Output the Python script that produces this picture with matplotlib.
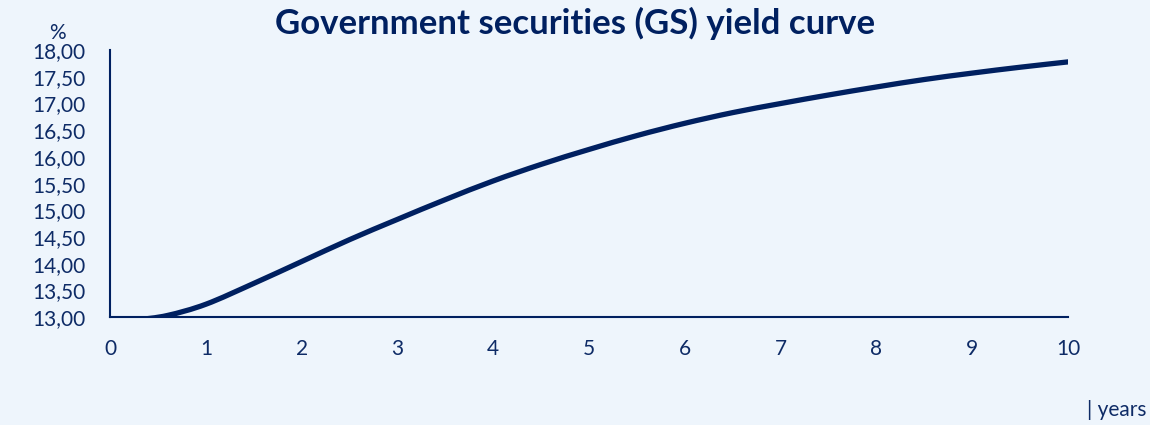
import matplotlib
matplotlib.use("Agg")
import matplotlib.pyplot as plt
import numpy as np
from matplotlib.path import Path
from matplotlib.patches import PathPatch
from matplotlib.ticker import FuncFormatter

# Yield curve: term to maturity (years) vs. yield (%)
maturity = [0.3, 0.6, 1.0, 1.5, 2.0, 2.5, 3.0, 3.5, 4.0, 4.5, 5.0,
            5.5, 6.0, 6.5, 7.0, 7.5, 8.0, 8.5, 9.0, 9.5, 10.0]
yield_pct = [12.95, 13.03, 13.24, 13.63, 14.04, 14.45, 14.83, 15.20, 15.55, 15.86, 16.14,
             16.40, 16.63, 16.83, 17.00, 17.16, 17.31, 17.45, 17.57, 17.68, 17.78]

x_ticks = list(range(0, 11))
y_ticks = [13.0, 13.5, 14.0, 14.5, 15.0, 15.5, 16.0, 16.5, 17.0, 17.5, 18.0]

navy = "#002060"
text_col = "#0E2B66"
bg = "#EEF5FC"

plt.rcParams["font.family"] = ["Lato", "DejaVu Sans"]


def smooth_path(xs, ys):
    """Cubic Bezier path through every data point (Catmull-Rom tangents)."""
    pts = np.column_stack([xs, ys]).astype(float)
    verts = [pts[0]]
    codes = [Path.MOVETO]
    n = len(pts)
    for i in range(n - 1):
        p0 = pts[i - 1] if i > 0 else pts[i]
        p1, p2 = pts[i], pts[i + 1]
        p3 = pts[i + 2] if i + 2 < n else pts[i + 1]
        c1 = p1 + (p2 - p0) / 6.0
        c2 = p2 - (p3 - p1) / 6.0
        verts += [c1, c2, p2]
        codes += [Path.CURVE4] * 3
    return Path(verts, codes)


fig = plt.figure(figsize=(11.5, 4.25), dpi=100, facecolor=bg)
ax = fig.add_axes([0.0957, 0.254, 0.833, 0.628], facecolor=bg)

curve = PathPatch(smooth_path(maturity, yield_pct), facecolor="none", edgecolor=navy,
                  linewidth=3.8, capstyle="round", joinstyle="round",
                  transform=ax.transData, zorder=3)
ax.add_patch(curve)

ax.set_xlim(0, 10)
ax.set_ylim(13.0, 18.0)
ax.set_xticks(x_ticks)
ax.set_yticks(y_ticks)
ax.yaxis.set_major_formatter(FuncFormatter(lambda v, p: f"{v:.2f}".replace(".", ",")))

for side in ("top", "right"):
    ax.spines[side].set_visible(False)
for side in ("left", "bottom"):
    ax.spines[side].set_color(navy)
    ax.spines[side].set_linewidth(1.5)

ax.tick_params(axis="both", length=0, labelsize=15, labelcolor=text_col)
ax.tick_params(axis="x", pad=16)
ax.tick_params(axis="y", pad=18)

fig.text(0.5, 0.944, "Government securities (GS) yield curve", ha="center", va="center",
         fontsize=25, fontweight="bold", color=navy)
fig.text(0.050, 0.922, "%", ha="center", va="center", fontsize=15, color=text_col)
fig.text(0.997, 0.035, "| years", ha="right", va="center", fontsize=15, color=text_col)

fig.savefig("out.png", dpi=100, facecolor=bg)
